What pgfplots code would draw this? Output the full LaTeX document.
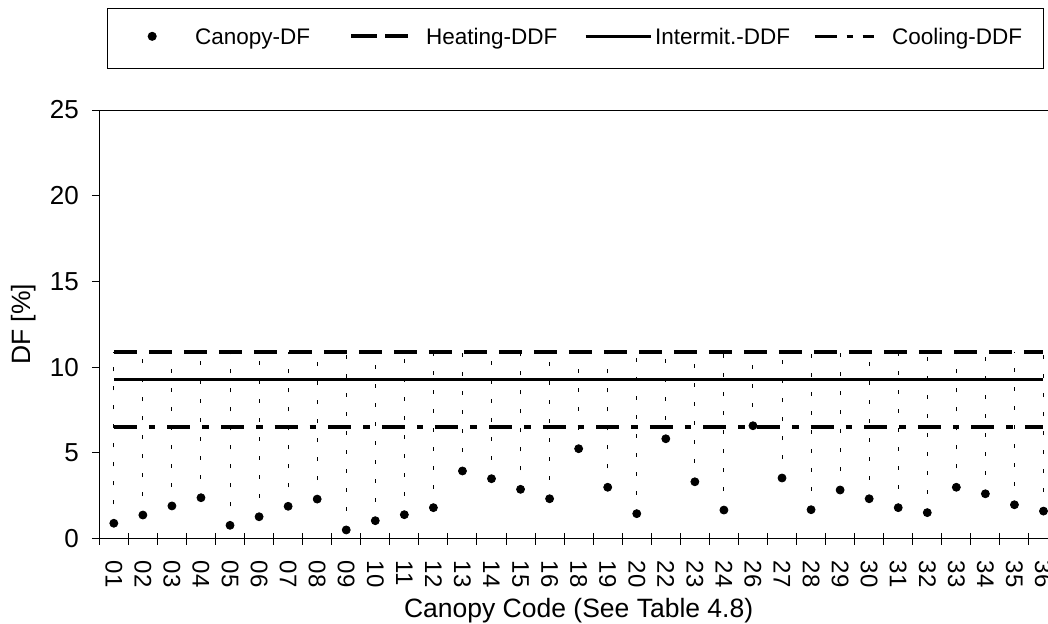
\documentclass[border=0pt]{standalone}
\usepackage{pgfplots}
\pgfplotsset{compat=1.18}
\usepackage{pgfplotstable}
\usepackage{fontspec}
\setmainfont{Liberation Sans}

\pgfplotstableread{
x y
1 0.89
2 1.37
3 1.90
4 2.38
5 0.77
6 1.27
7 1.88
8 2.30
9 0.50
10 1.04
11 1.39
12 1.80
13 3.94
14 3.49
15 2.87
16 2.32
17 5.24
18 2.99
19 1.45
20 5.82
21 3.31
22 1.66
23 6.58
24 3.53
25 1.68
26 2.83
27 2.32
28 1.80
29 1.51
30 2.99
31 2.61
32 1.97
33 1.60
}\dfdata

\begin{document}
\begin{tikzpicture}
\begin{axis}[
  at={(0pt,0pt)}, anchor=south west,
  scale only axis, width=479.35pt, height=214.25pt,
  xmin=0.5, xmax=33.5, ymin=0, ymax=25,
  axis line style={line width=0.5pt},
  ytick={0,5,10,15,20,25},
  ytick pos=left, xtick pos=bottom,
  ytick align=outside, xtick align=center,
  major tick length=3.65pt,
  minor tick length=6pt,
  tick style={line width=0.5pt, black},
  xtick={1,...,33},
  xticklabels={01,02,03,04,05,06,07,08,09,10,11,12,13,14,15,16,18,19,20,22,23,24,26,27,28,29,30,31,32,33,34,35,36},
  minor xtick={0.5,1.5,...,33.5},
  major x tick style={draw=none},
  xticklabel style={yshift=-9.1pt, rotate=-90, anchor=west, inner sep=0pt, font=\fontsize{12}{14}\selectfont},
  yticklabel style={anchor=east, inner sep=0pt, xshift=-6.4pt, font=\fontsize{13}{15}\selectfont},
  /pgf/number format/assume math mode=true,
  xlabel={Canopy Code (See Table 4.8)},
  ylabel={DF [\%]},
  every axis x label/.style={at={(axis description cs:0.5,0)}, anchor=base, yshift=-39.4pt, font=\fontsize{13.25}{15}\selectfont},
  every axis y label/.style={at={(axis description cs:-0.0785,0.5)}, rotate=90, anchor=center, font=\fontsize{13.25}{15}\selectfont},
  legend columns=4,
  legend style={at={(axis description cs:0.00772,1.2373)}, anchor=north west, draw=black, line width=0.5pt,
    inner xsep=0pt, inner ysep=9.35pt, column sep=0pt, row sep=0pt,
    font=\fontsize{11.25}{13}\selectfont,
    nodes={inner sep=0pt, outer sep=0pt, text height=8.4pt, text depth=2.6pt, anchor=base west}},
]
% drop lines from each point up to the heating line
\addplot[forget plot, draw=none, mark=none,
  error bars/.cd, y dir=plus, y explicit,
  error mark=none,
  error bar style={black, line width=0.5pt, dash pattern=on 2pt off 7.5pt}]
  table[x=x, y=y, y error expr={10.9-\thisrow{y}}] {\dfdata};

\addplot[only marks, mark=*, mark size=2pt, black,
  legend image code/.code={\path[draw=none,fill=none] (0pt,1pt) rectangle (44pt,7pt); \fill[black] (22.5pt,4pt) circle (2pt);}]
  table[x=x, y=y] {\dfdata};
\addlegendentry{\makebox[76pt][l]{Canopy-DF}}

\addplot[black, line width=2pt, dash pattern=on 11.5pt off 6pt,
  legend image code/.code={\path[draw=none,fill=none] (0pt,1pt) rectangle (39.5pt,7pt); \draw[black, line width=2pt, dash pattern=on 13pt off 4pt] (2pt,4pt) -- (30.15pt,4pt);}]
  coordinates {(1,10.9) (33,10.9)};
\addlegendentry{\makebox[77.5pt][l]{Heating-DDF}}

\addplot[black, line width=1.6pt,
  legend image code/.code={\path[draw=none,fill=none] (0pt,1pt) rectangle (37pt,7pt); \draw[black, line width=1.6pt] (2.15pt,4pt) -- (34.65pt,4pt);}]
  coordinates {(1,9.29) (33,9.29)};
\addlegendentry{\makebox[77.5pt][l]{Intermit.-DDF}}

\addplot[black, line width=1.8pt, dash pattern=on 11.5pt off 6pt on 3.3pt off 6pt,
  legend image code/.code={\path[draw=none,fill=none] (0pt,1pt) rectangle (41pt,7pt); \draw[black, line width=1.8pt, dash pattern=on 11pt off 5pt on 3pt off 5pt] (2.15pt,4pt) -- (31.65pt,4pt);}]
  coordinates {(1,6.49) (33,6.49)};
\addlegendentry{\makebox[75.65pt][l]{Cooling-DDF}}
\end{axis}
\pgfresetboundingbox
\path[use as bounding box] (-49.65pt,-42.25pt) rectangle (474.35pt,269.25pt);
\end{tikzpicture}
\end{document}
